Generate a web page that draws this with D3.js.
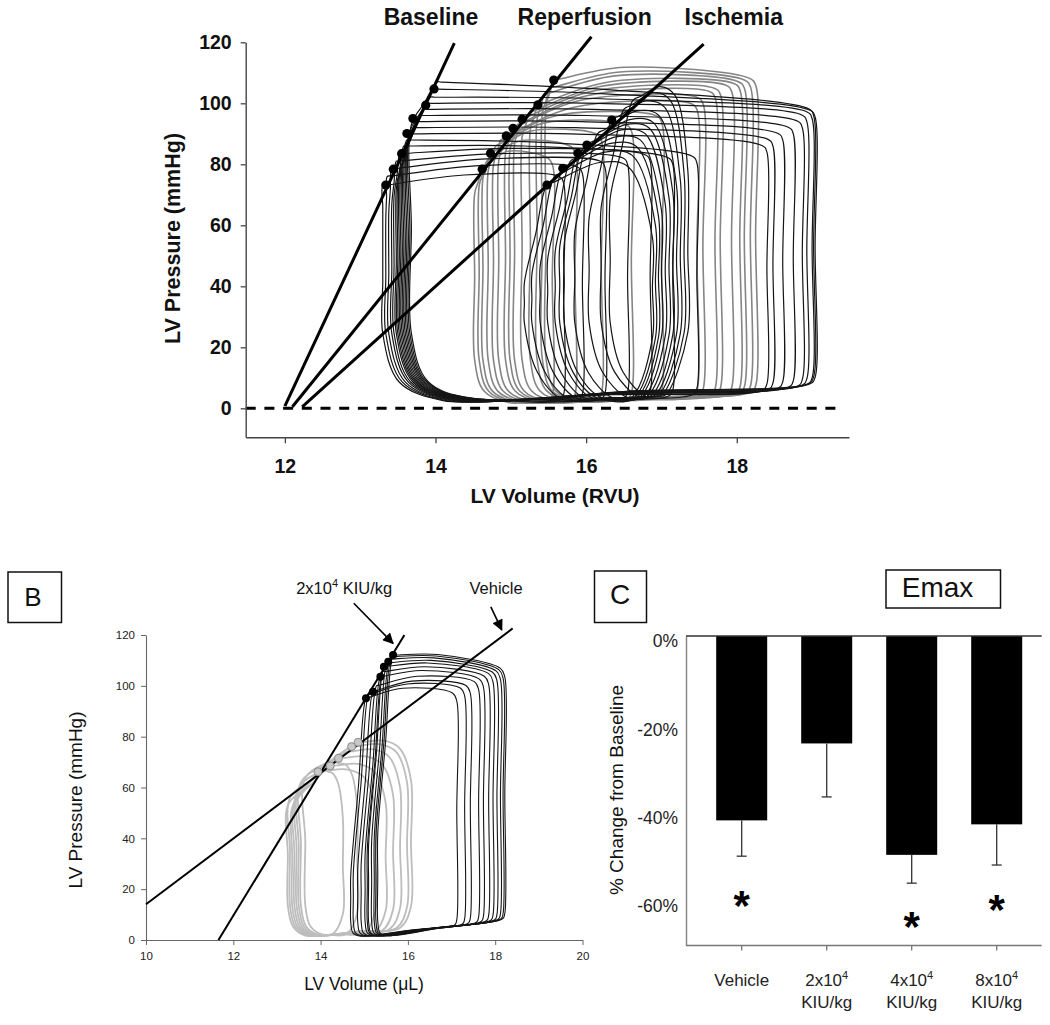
<!DOCTYPE html>
<html><head><meta charset="utf-8">
<script src="https://cdn.jsdelivr.net/npm/d3@7"></script>
<style>
body{margin:0;background:#fff}
svg{display:block}
text{font-family:"Liberation Sans",Arial,sans-serif}
</style></head><body>
<svg id="c" width="1050" height="1025"></svg>
<script>
// ================= DATA =================
// Panel A
const aXTicks=[12,14,16,18];
const aYTicks=[0,20,40,60,80,100,120];
const aLineNames=["Baseline","Reperfusion","Ischemia"];
const aLineStart=[[12.00,0.75],[12.10,0.5],[12.23,0.5]];
const aLineEnd=[[14.25,119.7],[16.07,121.8],[17.56,119.4]];
// loops: [ESV, ESP, EDV, P at start of ejection, EDP, volume at end of relaxation (optional)]
const baselineLoops=[
 [13.30,73,15.70,76,2.5,13.30],[13.36,76,15.95,79,2.7,13.34],[13.42,78.5,16.25,81,3.0,13.38],[13.48,81,16.55,82,3.3,13.42],
 [13.53,83.5,16.85,83,3.6,13.45],[13.58,86,17.15,82,4.0,13.48],[13.62,88,17.47,82.5,4.5,13.50],[13.66,90,18.40,86,6.0,13.52],
 [13.70,92,18.48,88,6.3,13.54],[13.74,94,18.61,90,6.7,13.56],[13.79,96,18.75,92,7.0,13.58],[13.84,98,18.87,94,7.4,13.60],
 [13.88,100,18.93,96,7.7,13.62],[13.93,102,19.00,97,8.0,13.64],[13.98,104.7,19.04,97.5,8.2,13.66],[14.02,107,19.02,98,8.3,13.68]];
const reperfusionLoops=[
 [14.62,78.4,15.55,82,2.0],[14.68,81,15.85,86,2.3],[14.73,83.6,16.20,90,2.7],[14.80,86,16.60,93,3.0],
 [14.87,88,17.00,96,3.4],[14.94,89.3,17.47,100,3.8],[15.03,91.8,17.55,102,4.0],[15.09,93,17.71,104,4.2],
 [15.15,94.8,17.78,105,4.4],[15.25,97,17.93,106,4.6],[15.36,99.5,18.04,106.5,4.8],[15.45,103,18.10,107,5.0],
 [15.52,105,18.18,107.5,5.2],[15.57,107.6,18.25,108,5.4]];
const ischemiaLoops=[
 [15.48,73.2,16.88,78,3.0],[15.58,76,16.92,82,3.1],[15.69,78.7,16.96,85,3.3],[15.79,81,17.00,87,3.5],
 [15.89,83.6,17.05,89,3.7],[15.95,85,17.10,91,3.9],[16.01,86.3,17.15,93,4.1],[16.15,90,17.20,95,4.3],
 [16.34,94.5,17.25,97,4.5],[16.50,98,17.30,99,4.7],[16.62,101,17.35,100,4.9]];
const baselineDots=[[13.34,73.2],[13.44,78.4],[13.55,83.5],[13.62,90.1],[13.70,95],[13.87,99.4],[13.98,104.7]];
const reperfusionDots=[[14.62,78.4],[14.73,83.6],[14.94,89.3],[15.03,91.8],[15.15,94.8],[15.36,99.5],[15.57,107.6]];
const ischemiaDots=[[15.48,73.2],[15.69,78.7],[15.89,83.6],[16.01,86.3],[16.34,94.5]];

// Panel B
const bXTicks=[10,12,14,16,18,20];
const bYTicks=[0,20,40,60,80,100,120];
const bDrugLine=[[11.66,0],[15.92,120]];
const bVehicleLine=[[10,14.05],[18.40,122.6]];
const bDrugLoops=[
 [15.04,95.1,17.12,97,6.0],[15.10,96.5,17.30,99,6.4],[15.20,97.7,17.43,100,6.7],[15.28,100,17.62,101.5,7.1],
 [15.37,103.6,17.73,102.5,7.4],[15.42,105.5,17.85,103.5,7.7],[15.45,107.5,17.95,104.5,7.9],[15.52,109,18.04,105,8.1],
 [15.58,110.5,18.12,105.5,8.3],[15.62,111.5,18.18,106,8.4],[15.66,112.1,18.22,106.5,8.5]];
const bVehicleLoops=[
 [13.94,66.2,15.25,62,3.0,13.35],[14.22,68.5,15.49,64,3.5,13.40],[14.41,71.5,15.66,67,4.0,13.45],
 [14.71,76.1,15.98,72,5.0,13.55],[14.86,77.8,16.07,73,5.2,13.65],[14.60,74.0,15.82,70,4.5,13.50],
 [14.30,70.0,14.84,62,2.5,13.30],[14.05,67.0,14.51,58,2.2,13.25]];
const bDrugDots=[[15.04,95.1],[15.20,97.7],[15.37,103.6],[15.45,107.5],[15.55,109.5],[15.66,112.1]];
const bVehicleDots=[[13.94,66.2],[14.22,68.5],[14.41,71.5],[14.71,76.1],[14.86,77.8]];

// Panel C
const cCats=["Vehicle","2x10^4","4x10^4","8x10^4"];
const cValues=[-41.7,-24.3,-49.5,-42.6];
const cErrLow=[-49.8,-36.4,-55.9,-51.8];
const cStarY=[-58.7,null,-63.6,-59.8];
const cYTicks=[0,-20,-40,-60];

// ================= DRAW =================
const svg=d3.select("#c");
const closed=d3.line().curve(d3.curveCatmullRomClosed.alpha(0.5));

function loopPts(d,sh,x,y){
  const [esv,esp,edv,ptr,edp]=d;
  const vbl=(d.length>5)?d[5]:esv-sh.lean;
  const TL=[esv,esp],BL=[vbl,sh.pmin],BR=[edv,edp],TR=[edv,ptr];
  const tmv=esv+(edv-esv)*sh.tmPos, TM=[tmv,(esp+ptr)/2+sh.bump];
  const L=(a,b,t)=>[a[0]+(b[0]-a[0])*t,a[1]+(b[1]-a[1])*t];
  const M=(a,b)=>L(a,b,0.5);
  const c=t=>Math.min(0.46,Math.max(0.01,t));
  const w=edv-vbl;
  const K=[vbl,Math.max(esp-sh.drop,sh.pmin+sh.rBLp+4)];
  const TLa=L(TL,TM,c(sh.rTLv/(tmv-esv)));
  const BLs=[vbl,sh.pmin+sh.rBLp];
  const BLe=L(BL,BR,c(sh.rBLv/w));
  const BRs=L(BR,BL,c(sh.rBRv/w));
  const BRe=L(BR,TR,c(sh.rBRp/(ptr-edp)));
  const TRs=L(TR,BR,c(sh.rTRp/(ptr-edp)));
  const TRe=L(TR,TM,c(sh.rTRv/(edv-tmv)));
  const pts=[TL,L(TL,K,0.5),K,M(K,BLs),BLs,L(BL,M(BLs,BLe),sh.kBL),BLe,M(BLe,BRs),BRs,BRe,M(BRe,TRs),TRs,TRe,TM,TLa];
  return pts.map(p=>[x(p[0]),y(p[1])]);
}

// ---------- Panel A ----------
const xA=d3.scaleLinear().domain([11.48,19.49]).range([245.7,849]);
const yA=d3.scaleLinear().domain([-9.5,120]).range([437.3,42.3]);
const gA=svg.append("g");
const shBase={lean:0.02,drop:14,pmin:2.5,bump:2,tmPos:0.45,rTLv:0.06,rBLp:22,rBLv:0.8,kBL:0.55,rBRv:0.06,rBRp:2,rTRp:2,rTRv:0.06};
const shRep={lean:0.1,drop:8,pmin:1.8,bump:4,tmPos:0.35,rTLv:0.06,rBLp:14,rBLv:0.45,kBL:0.55,rBRv:0.06,rBRp:2,rTRp:2,rTRv:0.08};
const shIsch={lean:0.3,drop:32,pmin:3,bump:5,tmPos:0.5,rTLv:0.1,rBLp:25,rBLv:0.5,kBL:0.7,rBRv:0.3,rBRp:20,rTRp:22,rTRv:0.35};
function drawLoops(g,arr,sh,x,y,col,w){
  g.append("g").selectAll("path").data(arr).join("path")
   .attr("d",d=>closed(loopPts(d,sh,x,y))).attr("fill","none")
   .attr("stroke",col).attr("stroke-width",w).attr("stroke-linejoin","round");
}
drawLoops(gA,reperfusionLoops,shRep,xA,yA,"#858585",1.6);
drawLoops(gA,baselineLoops,shBase,xA,yA,"#151515",1.2);
drawLoops(gA,ischemiaLoops,shIsch,xA,yA,"#151515",1.2);

// zero dashed line
gA.append("line").attr("x1",xA(11.48)).attr("x2",xA(19.33)).attr("y1",yA(0)).attr("y2",yA(0))
  .attr("stroke","#000").attr("stroke-width",3).attr("stroke-dasharray","10,8.7");

// ESPVR lines
aLineStart.forEach((s,i)=>{
  gA.append("line").attr("x1",xA(s[0])).attr("y1",yA(s[1])).attr("x2",xA(aLineEnd[i][0])).attr("y2",yA(aLineEnd[i][1]))
    .attr("stroke","#000").attr("stroke-width",3);
});
[baselineDots,reperfusionDots,ischemiaDots].forEach(arr=>{
  gA.append("g").selectAll("circle").data(arr).join("circle")
    .attr("cx",d=>xA(d[0])).attr("cy",d=>yA(d[1])).attr("r",4.6).attr("fill","#000");
});
// line labels
const aLabelV=[13.94,15.98,17.96];
gA.append("g").selectAll("text").data(aLineNames).join("text")
  .attr("x",(d,i)=>xA(aLabelV[i])).attr("y",yA(125.7)).attr("text-anchor","middle")
  .attr("font-weight","bold").attr("font-size",23).attr("fill","#111").text(d=>d);

// axes A
const axYA=gA.append("g").attr("transform",`translate(${xA(11.48)},0)`)
  .call(d3.axisLeft(yA).tickValues(aYTicks).tickSize(5).tickSizeOuter(0).tickPadding(9));
const axXA=gA.append("g").attr("transform",`translate(0,${yA(-9.5)})`)
  .call(d3.axisBottom(xA).tickValues(aXTicks).tickSize(6).tickSizeOuter(0).tickPadding(16));
[axYA,axXA].forEach(a=>{
  a.select(".domain").attr("stroke","#444").attr("stroke-width",1.4);
  a.selectAll(".tick line").attr("stroke","#444").attr("stroke-width",1.3);
  a.selectAll(".tick text").attr("font-family",null).attr("font-size",19.5).attr("font-weight","bold").attr("fill","#111");
});
gA.append("text").attr("transform",`translate(172,238.5) rotate(-90)`).attr("text-anchor","middle").attr("dy","0.35em")
  .attr("font-weight","bold").attr("font-size",21.5).attr("fill","#111").text("LV Pressure (mmHg)");
gA.append("text").attr("x",555).attr("y",503).attr("text-anchor","middle")
  .attr("font-weight","bold").attr("font-size",21).attr("fill","#111").text("LV Volume (RVU)");

// ---------- Panel B ----------
const xB=d3.scaleLinear().domain([10,20]).range([146,582.5]);
const yB=d3.scaleLinear().domain([0,120]).range([940,635]);
const gB=svg.append("g");
gB.append("rect").attr("x",8).attr("y",572).attr("width",53.5).attr("height",50.5).attr("fill","none").attr("stroke","#111").attr("stroke-width",1.5);
gB.append("text").attr("x",33).attr("y",605.5).attr("text-anchor","middle").attr("font-size",26).attr("fill","#111").text("B");

const shBV={lean:0.85,drop:14,pmin:1.5,bump:3,tmPos:0.5,rTLv:0.15,rBLp:12,rBLv:0.4,kBL:0.6,rBRv:0.25,rBRp:8,rTRp:10,rTRv:0.25};
const shBD={lean:0.35,drop:70,pmin:1.2,bump:3,tmPos:0.4,rTLv:0.05,rBLp:6,rBLv:0.2,kBL:0.5,rBRv:0.05,rBRp:2,rTRp:3,rTRv:0.1};
drawLoops(gB,bVehicleLoops,shBV,xB,yB,"#bdbdbd",1.8);
drawLoops(gB,bDrugLoops,shBD,xB,yB,"#151515",1.1);

const axYB=gB.append("g").attr("transform",`translate(${xB(10)},0)`)
  .call(d3.axisLeft(yB).tickValues(bYTicks).tickSize(5).tickSizeOuter(0).tickPadding(6));
const axXB=gB.append("g").attr("transform",`translate(0,${yB(0)})`)
  .call(d3.axisBottom(xB).tickValues(bXTicks).tickSize(5).tickSizeOuter(0).tickPadding(7));
[axYB,axXB].forEach(a=>{
  a.select(".domain").attr("stroke","#666").attr("stroke-width",1.1);
  a.selectAll(".tick line").attr("stroke","#666");
  a.selectAll(".tick text").attr("font-family",null).attr("font-size",11.5).attr("fill","#222");
});
// ESPVR lines B
[bDrugLine,bVehicleLine].forEach(l=>{
  gB.append("line").attr("x1",xB(l[0][0])).attr("y1",yB(l[0][1])).attr("x2",xB(l[1][0])).attr("y2",yB(l[1][1]))
    .attr("stroke","#000").attr("stroke-width",2);
});
gB.append("g").selectAll("circle").data(bVehicleDots).join("circle")
  .attr("cx",d=>xB(d[0])).attr("cy",d=>yB(d[1])).attr("r",4).attr("fill","#c8c8c8").attr("stroke","#8a8a8a").attr("stroke-width",1);
gB.append("g").selectAll("circle").data(bDrugDots).join("circle")
  .attr("cx",d=>xB(d[0])).attr("cy",d=>yB(d[1])).attr("r",4).attr("fill","#000");

gB.append("text").attr("transform",`translate(75,800) rotate(-90)`).attr("text-anchor","middle").attr("dy","0.35em")
  .attr("font-size",19).attr("fill","#111").text("LV Pressure (mmHg)");
gB.append("text").attr("x",364).attr("y",990).attr("text-anchor","middle")
  .attr("font-size",17.5).attr("fill","#111").text("LV Volume (\u03bcL)");

// annotations B
const defs=svg.append("defs");
defs.append("marker").attr("id","ah").attr("viewBox","0 0 10 10").attr("refX",9).attr("refY",5)
  .attr("markerWidth",13).attr("markerHeight",11).attr("markerUnits","userSpaceOnUse").attr("orient","auto")
  .append("path").attr("d","M0,0 L10,5 L0,10 Z").attr("fill","#000");
[[[14.76,132.5],[15.66,116.7]],[[17.9,131.1],[18.15,122]]].forEach(a=>{
  gB.append("line").attr("x1",xB(a[0][0])).attr("y1",yB(a[0][1])).attr("x2",xB(a[1][0])).attr("y2",yB(a[1][1]))
    .attr("stroke","#000").attr("stroke-width",1.6).attr("marker-end","url(#ah)");
});
const t1=gB.append("text").attr("x",xB(13.44)).attr("y",594).attr("font-size",16.5).attr("fill","#111");
t1.append("tspan").text("2x10");
t1.append("tspan").attr("dy",-7).attr("font-size",11).text("4");
t1.append("tspan").attr("dy",7).text(" KIU/kg");
gB.append("text").attr("x",xB(17.41)).attr("y",594).attr("font-size",16.5).attr("fill","#111").text("Vehicle");

// ---------- Panel C ----------
const gC=svg.append("g");
const xC=d3.scaleBand().domain(cCats).range([699.2,1039.2]).paddingInner(0.4).paddingOuter(0.2);
const yC=d3.scaleLinear().domain([-70,0]).range([945.5,636]);
gC.append("rect").attr("x",594.5).attr("y",571).attr("width",52).attr("height",51.5).attr("fill","none").attr("stroke","#111").attr("stroke-width",1.5);
gC.append("text").attr("x",620).attr("y",604).attr("text-anchor","middle").attr("font-size",28).attr("fill","#111").text("C");
gC.append("rect").attr("x",886).attr("y",570).attr("width",114.5).attr("height",38).attr("fill","none").attr("stroke","#111").attr("stroke-width",1.5);
gC.append("text").attr("x",937.5).attr("y",596.5).attr("text-anchor","middle").attr("font-size",28).attr("fill","#111").text("Emax");

gC.selectAll("rect.bar").data(cCats).join("rect").attr("class","bar")
  .attr("x",d=>xC(d)).attr("width",xC.bandwidth())
  .attr("y",yC(0)).attr("height",(d,i)=>yC(cValues[i])-yC(0)).attr("fill","#000");
cCats.forEach((c,i)=>{
  const cx=xC(c)+xC.bandwidth()/2;
  gC.append("line").attr("x1",cx).attr("x2",cx).attr("y1",yC(cValues[i])).attr("y2",yC(cErrLow[i])).attr("stroke","#333").attr("stroke-width",1.3);
  gC.append("line").attr("x1",cx-5).attr("x2",cx+5).attr("y1",yC(cErrLow[i])).attr("y2",yC(cErrLow[i])).attr("stroke","#333").attr("stroke-width",1.3);
  if(cStarY[i]!==null){
    gC.append("text").attr("x",cx).attr("y",yC(cStarY[i])+24).attr("text-anchor","middle")
      .attr("font-size",42).attr("font-weight","bold").attr("fill","#000").text("*");
  }
});
// axes C
const axYC=gC.append("g").attr("transform",`translate(686,0)`)
  .call(d3.axisLeft(yC).tickValues(cYTicks).tickSize(0).tickSizeOuter(0).tickPadding(8).tickFormat(d=>d+"%"));
axYC.select(".domain").attr("stroke","#888").attr("stroke-width",1.5);
axYC.selectAll(".tick text").attr("font-family",null).attr("font-size",17.5).attr("fill","#222").attr("y",5);
gC.append("line").attr("x1",686).attr("x2",1041.7).attr("y1",yC(0)).attr("y2",yC(0)).attr("stroke","#333").attr("stroke-width",1.6);
gC.append("line").attr("x1",686).attr("x2",1041.7).attr("y1",yC(-70)).attr("y2",yC(-70)).attr("stroke","#777").attr("stroke-width",1.5);
const axXC=gC.append("g").attr("transform",`translate(0,${yC(-70)})`)
  .call(d3.axisBottom(xC).tickSize(5).tickSizeOuter(0).tickFormat(""));
axXC.select(".domain").remove();
axXC.selectAll(".tick line").attr("stroke","#777").attr("stroke-width",1.3);
cCats.forEach(c=>{
  const cx=xC(c)+xC.bandwidth()/2;
  const parts=c.split("^");
  const t=gC.append("text").attr("x",cx).attr("y",986).attr("text-anchor","middle").attr("font-size",17).attr("fill","#222");
  if(parts.length===1){ t.text(c); }
  else{
    t.append("tspan").text(parts[0]);
    t.append("tspan").attr("dy",-7).attr("font-size",11).text(parts[1]);
    gC.append("text").attr("x",cx).attr("y",1007.5).attr("text-anchor","middle").attr("font-size",17).attr("fill","#222").text("KIU/kg");
  }
});
gC.append("text").attr("transform",`translate(616.7,790) rotate(-90)`).attr("text-anchor","middle").attr("dy","0.35em")
  .attr("font-size",19).attr("fill","#111").text("% Change from Baseline");
</script>
</body></html>
